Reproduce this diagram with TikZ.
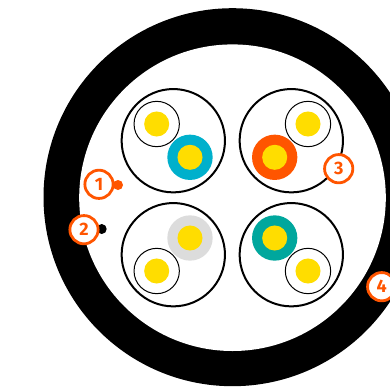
\documentclass[tikz,border=0pt]{standalone}
\usepackage{fontspec}
\setmainfont{Fira Sans}
\definecolor{callout}{HTML}{FF5500}
\definecolor{core}{HTML}{FFDD00}
\definecolor{tealpair}{HTML}{00A79D}
\definecolor{bluepair}{HTML}{00B0CC}
\definecolor{greypair}{HTML}{DCDCDC}
\tikzset{
  px/.style={x=0.75pt,y=-0.75pt},
  pairring/.style={circle,draw=black,line width=1.5pt,minimum size=77.5pt,inner sep=0pt},
  sheath/.style={circle,minimum size=34pt,inner sep=0pt,outer sep=0pt},
  plainwire/.style={circle,draw=black,line width=0.75pt,fill=white,minimum size=34pt,inner sep=0pt},
  corewire/.style={circle,fill=core,minimum size=18.8pt,inner sep=0pt,outer sep=0pt},
  calloutdot/.style={circle,minimum size=7.5pt,inner sep=0pt,outer sep=0pt},
  calloutlabel/.style={circle,draw=callout,line width=2.1pt,fill=white,text=callout,
    minimum size=21.2pt,inner sep=0pt,font=\bfseries\fontsize{13.5pt}{13.5pt}\selectfont},
}
\begin{document}
\begin{tikzpicture}[px]
  \useasboundingbox (0,0) rectangle (390,387);
  \begin{scope}
    \clip (0,0) rectangle (390,387);
    % Jacket
    \fill[black] (232.5,197.2) circle (189*0.75pt);
    \fill[white] (232.5,197.7) circle (153.3*0.75pt);
  \end{scope}
  % Pairs
  \node[pairring] (ringa) at (173.3,140.7) {};
  \node[pairring] (ringb) at (291.3,140.7) {};
  \node[pairring] (ringc) at (173.3,254.7) {};
  \node[pairring] (ringd) at (291.3,254.7) {};
  \foreach \wname/\wx/\wy/\wcol in {a/190/157.3/bluepair, b/274.7/157.3/callout, c/190/238/greypair, d/274.7/238/tealpair} {
    \node[sheath,fill=\wcol] (sheath\wname) at (\wx,\wy) {};
    \node[corewire] (core\wname) at (sheath\wname) {};
  }
  \foreach \wname/\wx/\wy in {a/156.7/124, b/308/124, c/156.7/271, d/308/271} {
    \node[plainwire] (plain\wname) at (\wx,\wy) {};
    \node[corewire] (inner\wname) at (plain\wname) {};
  }
  % Callouts
  \node[calloutdot,fill=callout] (dotone) at (118,185) {};
  \node[calloutdot,fill=black] (dottwo) at (101.7,229) {};
  \node[calloutlabel] (one) at (99,184.3) {1};
  \node[calloutlabel] (two) at (84,229.7) {2};
  \node[calloutlabel] (three) at (338.7,168.7) {3};
  \node[calloutlabel] (four) at (381.7,286.7) {4};
\end{tikzpicture}
\end{document}
